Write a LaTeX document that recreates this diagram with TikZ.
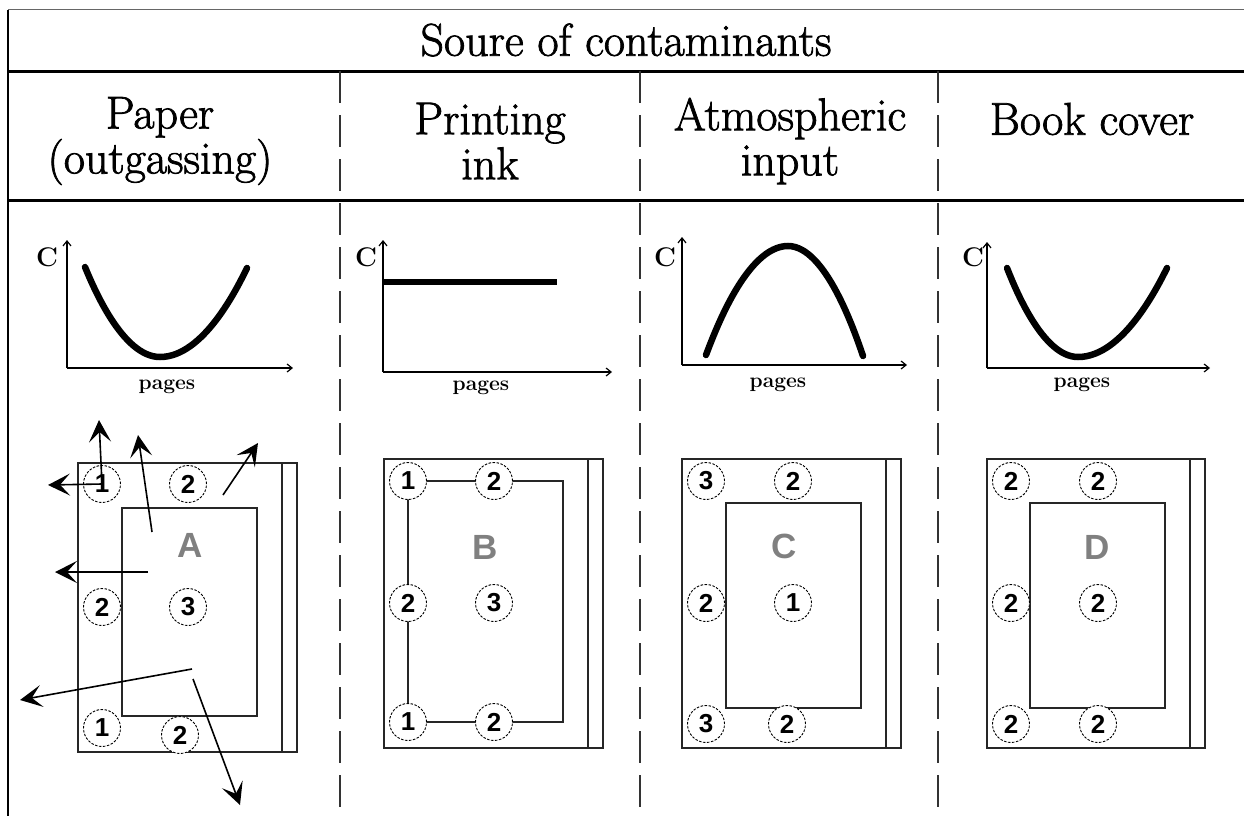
\documentclass[tikz,border=0pt]{standalone}
\usepackage{fontspec}
\newfontfamily\digitfont{Liberation Sans}
\newfontfamily\headfont{Latin Modern Roman}[BoldFont=*, BoldFeatures={FakeBold=1.6}]
\usetikzlibrary{arrows.meta}

\begin{document}
\begin{tikzpicture}[
            x=1pt, y=-1pt,
            heading/.style={font=\headfont\bfseries\fontsize{46}{45}\selectfont, align=center, inner sep=0pt},
            divider/.style={draw=black!80, line width=1.6pt, dash pattern=on 32pt off 12pt},
            axis/.style={line width=1.2pt, -{Straight Barb[length=5pt, width=8pt]}},
            curve/.style={line width=6.5pt, line cap=round},
            axislabel/.style={font=\fontsize{21}{24}\selectfont\bfseries, inner sep=0pt},
            cover/.style={draw=black!85, line width=1.6pt},
            spot/.style={circle, draw, line width=0.9pt, dash pattern=on 2.5pt off 1.5pt, minimum size=37pt, inner sep=0pt, fill=white, font=\digitfont\bfseries\fontsize{26}{26}\selectfont},
            booklabel/.style={text=gray, font=\digitfont\bfseries\fontsize{35}{35}\selectfont},
            flow/.style={line width=1.6pt, -{Stealth[length=22pt, width=22pt, inset=10pt]}},
        ]
            \useasboundingbox (0,0) rectangle (1244,816);
            \draw[black!60, line width=1pt] (8,10) -- (1244,10);
            \draw[line width=3pt] (8,71) -- (1244,71);
            \draw[line width=3pt] (8,200) -- (1244,200);
            \draw[line width=2pt] (8,10) -- (8,816);
            \draw[divider] (340,71) -- (340,816);
            \draw[divider] (640,71) -- (640,816);
            \draw[divider] (938,71) -- (938,816);

            \node[heading] (title) at (626,40) {Soure of contaminants};
            \node[heading] (paper) at (160,141) {Paper\\(outgassing)};
            \node[heading] (ink) at (490,141) {Printing\\ink};
            \node[heading] (air) at (790,141) {Atmospheric\\input};
            \node[heading] (cover) at (1092,119) {Book cover};

            \coordinate (o1) at (67,368);
            \coordinate (o2) at (383,372);
            \coordinate (o3) at (682,365);
            \coordinate (o4) at (987,368);
            \draw[axis] (o1) -- (67,240);
            \draw[axis] (o1) -- (293,368);
            \draw[axis] (o2) -- (383,240);
            \draw[axis] (o2) -- (612,372);
            \draw[axis] (o3) -- (682,237);
            \draw[axis] (o3) -- (907,365);
            \draw[axis] (o4) -- (987,242);
            \draw[axis] (o4) -- (1210,368);
            \node[axislabel, font=\fontsize{27}{27}\selectfont\bfseries] (c1) at (47,257) {C};
            \node[axislabel, font=\fontsize{27}{27}\selectfont\bfseries] (c2) at (366,257) {C};
            \node[axislabel, font=\fontsize{27}{27}\selectfont\bfseries] (c3) at (665,257) {C};
            \node[axislabel, font=\fontsize{27}{27}\selectfont\bfseries] (c4) at (973,257) {C};
            \node[axislabel] (p1) at (167,387) {pages};
            \node[axislabel] (p2) at (481,388) {pages};
            \node[axislabel] (p3) at (778,385) {pages};
            \node[axislabel] (p4) at (1082,385) {pages};
            \draw[curve] (85,267) parabola bend (160,357) (247,268);
            \draw[line width=6.5pt] (383,282) -- (557,282);
            \draw[curve] (706,355) parabola bend (788,246) (863,356);
            \draw[curve] (1007,268) parabola bend (1078,357) (1167,268);

            \draw[cover] (78,463) rectangle (297,752);
            \draw[cover] (282,463) -- (282,752);
            \draw[cover] (122,508) rectangle (257,716);
            \draw[cover] (384,459) rectangle (603,748);
            \draw[cover] (588,459) -- (588,748);
            \draw[cover] (408,481) rectangle (563,722);
            \draw[cover] (682,459) rectangle (901,748);
            \draw[cover] (886,459) -- (886,748);
            \draw[cover] (726,503) rectangle (861,708);
            \draw[cover] (987,459) rectangle (1205,748);
            \draw[cover] (1190,459) -- (1190,748);
            \draw[cover] (1030,503) rectangle (1165,708);

            \node[booklabel] (A) at (190,545) {A};
            \node[booklabel] (B) at (485,547) {B};
            \node[booklabel] (C) at (784,546) {C};
            \node[booklabel] (D) at (1097,547) {D};

            \node[spot] (a1) at (102,484) {1};
            \node[spot] (a2) at (188,484) {2};
            \node[spot] (a3) at (102,607) {2};
            \node[spot] (a4) at (188,607) {3};
            \node[spot] (a5) at (102,728) {1};
            \node[spot] (a6) at (180,735) {2};
            \node[spot] (b1) at (408,481) {1};
            \node[spot] (b2) at (494,481) {2};
            \node[spot] (b3) at (408,603) {2};
            \node[spot] (b4) at (494,603) {3};
            \node[spot] (b5) at (408,722) {1};
            \node[spot] (b6) at (494,722) {2};
            \node[spot] (c1) at (706,481) {3};
            \node[spot] (c2) at (793,481) {2};
            \node[spot] (c3) at (706,603) {2};
            \node[spot] (c4) at (793,603) {1};
            \node[spot] (c5) at (706,724) {3};
            \node[spot] (c6) at (787,724) {2};
            \node[spot] (d1) at (1011,481) {2};
            \node[spot] (d2) at (1098,481) {2};
            \node[spot] (d3) at (1011,603) {2};
            \node[spot] (d4) at (1098,603) {2};
            \node[spot] (d5) at (1011,724) {2};
            \node[spot] (d6) at (1098,724) {2};

            \coordinate (up) at (99,420);
            \coordinate (left) at (48,485);
            \coordinate (s1) at (152,532);
            \coordinate (t1) at (138,435);
            \coordinate (s2) at (223,495);
            \coordinate (t2) at (258,443);
            \coordinate (s3) at (148,572);
            \coordinate (t3) at (55,572);
            \coordinate (s4) at (192,669);
            \coordinate (t4) at (20,700);
            \coordinate (s5) at (193,679);
            \coordinate (t5) at (240,805);
            \draw[flow] (a1.center) -- (up);
            \draw[flow] (a1.center) -- (left);
            \draw[flow] (s1) -- (t1);
            \draw[flow] (s2) -- (t2);
            \draw[flow] (s3) -- (t3);
            \draw[flow] (s4) -- (t4);
            \draw[flow] (s5) -- (t5);
        \end{tikzpicture}
\end{document}
